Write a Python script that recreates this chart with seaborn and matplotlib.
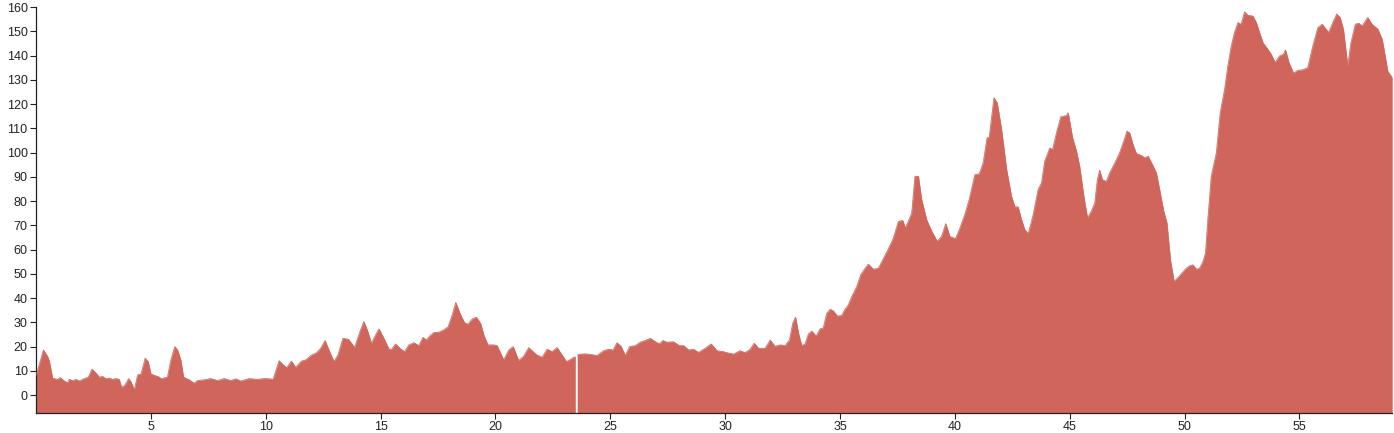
import matplotlib
matplotlib.use("Agg")
import matplotlib.pyplot as plt
import numpy as np
import pandas as pd
import seaborn as sns

# Values (x position, value)
x_vals = [
    0.0, 0.32, 0.51, 0.58, 0.72, 0.94, 1.06, 1.23, 1.38, 1.45, 1.6, 1.74, 1.88, 2.1, 2.28, 2.43,
    2.61, 2.75, 2.9, 3.04, 3.19, 3.33, 3.48, 3.62, 3.72, 3.87, 4.03, 4.13, 4.28, 4.42, 4.57, 4.75,
    4.88, 5.0, 5.22, 5.33, 5.46, 5.58, 5.72, 5.87, 6.04, 6.16, 6.3, 6.42, 6.67, 6.88, 7.03, 7.32,
    7.61, 7.9, 8.19, 8.48, 8.7, 8.91, 9.27, 9.64, 9.93, 10.19, 10.32, 10.58, 10.72, 10.91, 11.12,
    11.3, 11.55, 11.74, 11.99, 12.22, 12.39, 12.58, 12.78, 12.97, 13.14, 13.36, 13.6, 13.87, 14.1,
    14.27, 14.42, 14.6, 14.78, 14.93, 15.14, 15.36, 15.48, 15.65, 15.84, 16.04, 16.23, 16.45, 16.67,
    16.84, 16.99, 17.14, 17.32, 17.53, 17.75, 17.94, 18.12, 18.27, 18.48, 18.65, 18.8, 18.99, 19.17,
    19.35, 19.49, 19.67, 19.93, 20.07, 20.36, 20.58, 20.77, 21.01, 21.23, 21.45, 21.59, 21.81, 22.03,
    22.25, 22.47, 22.68, 22.9, 23.09, 23.26, 23.41, 23.47,
    23.57, 23.62, 23.91, 24.13, 24.42, 24.71, 24.93, 25.12, 25.29, 25.47, 25.65, 25.84, 26.09, 26.3,
    26.52, 26.74, 26.96, 27.14, 27.29, 27.46, 27.75, 28.01, 28.19, 28.41, 28.62, 28.84, 29.13, 29.39,
    29.64, 29.93, 30.07, 30.36, 30.65, 30.87, 31.09, 31.26, 31.45, 31.74, 31.96, 32.17, 32.39, 32.61,
    32.8, 32.94, 33.06, 33.19, 33.33, 33.48, 33.62, 33.77, 33.96, 34.13, 34.27, 34.42, 34.57, 34.71,
    34.88, 35.07, 35.22, 35.36, 35.51, 35.73, 35.9, 36.09, 36.23, 36.45, 36.67, 36.86, 37.1, 37.32,
    37.54, 37.73, 37.84, 37.97, 38.12, 38.26, 38.41, 38.55, 38.77, 38.99, 39.23, 39.42, 39.6, 39.78,
    40.03, 40.22, 40.43, 40.62, 40.87, 41.06, 41.23, 41.4, 41.49, 41.7, 41.84, 42.03, 42.25, 42.46,
    42.61, 42.75, 42.9, 43.04, 43.19, 43.41, 43.62, 43.77, 43.91, 44.13, 44.25, 44.42, 44.61, 44.86,
    44.93, 45.12, 45.29, 45.43, 45.61, 45.77, 45.94, 46.09, 46.2, 46.3, 46.42, 46.59, 46.74, 46.96,
    47.17, 47.35, 47.49, 47.61, 47.75, 47.9, 48.12, 48.26, 48.41, 48.6, 48.77, 48.91, 49.09, 49.23,
    49.38, 49.54, 49.78, 50.07, 50.22, 50.36, 50.51, 50.65, 50.8, 50.91, 51.01, 51.16, 51.38, 51.55,
    51.74, 51.88, 52.03, 52.17, 52.32, 52.46, 52.61, 52.75, 52.97, 53.12, 53.26, 53.41, 53.62, 53.77,
    53.94, 54.13, 54.3, 54.39, 54.54, 54.74, 54.93, 55.14, 55.36, 55.58, 55.8, 55.99, 56.27, 56.45,
    56.62, 56.77, 56.91, 57.1, 57.24, 57.43, 57.58, 57.73, 57.97, 58.16, 58.41, 58.6, 58.74, 58.84,
    59.03,
]
y_vals = [
    8.0, 18.6, 15.8, 13.8, 6.9, 6.5, 7.2, 5.8, 5.1, 6.5, 5.9, 6.5, 5.8, 6.8, 7.4, 10.7,
    9.1, 7.4, 7.7, 6.7, 7.0, 6.5, 6.8, 6.5, 3.2, 4.1, 6.8, 5.5, 2.1, 8.3, 8.7, 15.2,
    13.8, 8.7, 7.9, 7.6, 6.7, 7.1, 7.4, 14.5, 20.0, 18.6, 14.5, 7.4, 6.3, 4.9, 6.0, 6.3,
    6.8, 6.0, 6.8, 6.0, 6.7, 5.8, 6.8, 6.5, 6.8, 6.7, 6.5, 14.2, 12.8, 11.3, 14.0,
    11.4, 14.0, 14.5, 16.5, 17.5, 19.3, 22.5, 17.9, 13.8, 16.5, 23.4, 23.0, 19.7, 26.2,
    30.3, 26.8, 21.3, 24.8, 27.3, 23.4, 19.0, 18.9, 21.1, 19.3, 17.9, 20.7, 21.6, 20.4,
    23.8, 22.7, 24.4, 25.8, 25.9, 26.9, 28.2, 33.1, 38.2, 33.1, 29.9, 29.2, 31.4, 32.1,
    29.6, 24.8, 20.7, 20.7, 20.4, 14.5, 18.6, 20.0, 14.2, 16.1, 19.6, 18.3, 16.5, 15.6,
    18.9, 17.9, 19.6, 16.5, 13.8, 14.7, 15.6, 15.8,
    16.6, 16.8, 17.0, 16.8, 16.3, 18.3, 18.9, 18.6, 21.6, 20.0, 16.3, 20.0, 20.4, 21.8,
    22.5, 23.4, 22.0, 21.1, 22.5, 21.8, 22.0, 20.4, 20.4, 18.6, 18.9, 17.6, 19.3, 21.1,
    18.3, 17.9, 17.5, 16.9, 18.3, 17.5, 18.9, 21.4, 19.3, 19.3, 22.7, 20.1, 20.7, 20.4,
    22.7, 29.6, 32.1, 25.5, 20.4, 21.1, 25.2, 26.4, 24.3, 27.3, 27.7, 33.7, 35.4, 34.7,
    32.6, 32.8, 35.4, 37.2, 40.6, 44.8, 49.6, 52.3, 54.0, 51.9, 52.3, 55.8, 60.2, 64.7,
    71.6, 72.0, 68.9, 71.6, 75.1, 90.2, 90.2, 80.6, 72.3, 67.5, 63.4, 65.4, 70.7, 65.4,
    64.5, 68.9, 74.4, 80.6, 90.9, 91.2, 95.7, 106.1, 106.1, 122.6, 120.5, 109.5, 93.0, 82.0,
    77.6, 77.6, 72.3, 68.2, 66.5, 74.4, 84.7, 87.5, 96.4, 101.9, 101.2, 108.1, 114.7, 115.3,
    116.4, 106.1, 100.6, 94.3, 82.0, 73.0, 75.8, 79.2, 88.8, 92.7, 88.8, 88.1, 91.6, 95.7,
    99.9, 104.7, 108.8, 108.1, 103.3, 99.6, 98.8, 97.8, 98.5, 95.0, 91.6, 84.7, 75.8, 70.9,
    55.8, 46.8, 49.2, 52.3, 53.3, 53.7, 51.9, 52.3, 55.1, 58.5, 72.3, 90.2, 99.9, 116.4,
    126.0, 135.7, 143.9, 149.5, 153.6, 152.9, 158.0, 156.6, 156.3, 153.6, 149.5, 145.3, 142.6, 140.5,
    137.1, 139.8, 140.5, 142.3, 137.1, 132.7, 133.9, 134.1, 135.0, 143.9, 151.5, 152.9, 149.5, 153.6,
    157.1, 155.7, 150.9, 135.7, 145.3, 152.9, 153.3, 152.2, 155.7, 152.9, 150.9, 146.7, 139.1, 133.6,
    130.9,
]
gap_at = 23.52  # missing value -> thin white break in the area

y_ticks = list(range(0, 161, 10))
x_ticks = [5, 10, 15, 20, 25, 30, 35, 40, 45, 50, 55]

fill_color = "#CF655B"

sns.set_style("ticks")
plt.rcParams["font.family"] = ["Liberation Sans", "DejaVu Sans"]

df = pd.DataFrame({"x": x_vals, "y": y_vals})
df["part"] = np.where(df["x"] < gap_at, 0, 1)

fig = plt.figure(figsize=(13.94, 4.33), dpi=100)
ax = fig.add_axes([36 / 1394, 20 / 433, 1356 / 1394, 406 / 433])

ymin = -7.4
for part, seg in df.groupby("part"):
    ax.fill_between(seg["x"], ymin, seg["y"], facecolor=fill_color,
                    edgecolor=fill_color, linewidth=0.3)
    sns.lineplot(data=seg, x="x", y="y", ax=ax, color=fill_color, linewidth=0.5,
                 estimator=None, sort=False, zorder=3)

ax.set_xlim(0, 59.03)
ax.set_ylim(ymin, 160)
ax.set_yticks(y_ticks)
ax.set_xticks(x_ticks)
ax.set_xlabel("")
ax.set_ylabel("")
ax.tick_params(axis="both", labelsize=9, length=4, width=0.8, colors="#222222", pad=2)
for side in ["top", "right"]:
    ax.spines[side].set_visible(False)
for side in ["left", "bottom"]:
    ax.spines[side].set_color("#222222")
    ax.spines[side].set_linewidth(0.9)
ax.spines["bottom"].set_zorder(4)

fig.savefig("out.png", dpi=100)
